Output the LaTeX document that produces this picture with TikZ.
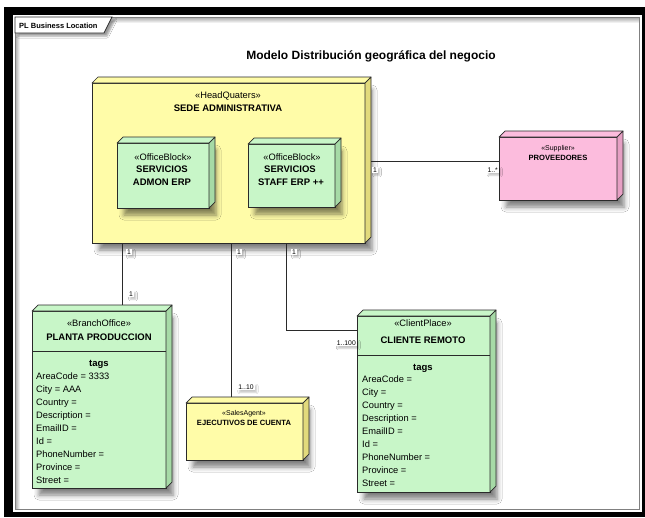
\documentclass[tikz,border=0pt]{standalone}
\usepackage{fontspec}
\setmainfont{Liberation Sans}
\usetikzlibrary{calc,shadows.blur}

\definecolor{hqYellow}{HTML}{FFFCA8}
\definecolor{hqYellowSide}{HTML}{E2DA7C}
\definecolor{obGreen}{HTML}{C8F6C8}
\definecolor{obGreenSide}{HTML}{A6DAA6}
\definecolor{supPink}{HTML}{FCBCDD}
\definecolor{supPinkSide}{HTML}{E6A0C4}
\definecolor{edge}{HTML}{2A2A2A}

\tikzset{
  box/.style={draw=edge, line width=0.7pt, inner sep=0pt, outer sep=0pt,
    blur shadow={shadow xshift=7pt, shadow yshift=-7pt, shadow blur radius=5pt, shadow opacity=50}},
  bigstereo/.style={font=\fontsize{9.3}{11}\selectfont, inner sep=0pt, anchor=base},
  bigname/.style={font=\fontsize{9.5}{11}\selectfont\bfseries, inner sep=0pt, anchor=base},
  smallstereo/.style={font=\fontsize{7}{8}\selectfont, inner sep=0pt, anchor=base},
  smallname/.style={font=\fontsize{7.6}{9}\selectfont\bfseries, inner sep=0pt, anchor=base},
  tagline/.style={font=\fontsize{9.3}{11}\selectfont, inner sep=0pt, anchor=base west},
  mult/.style={font=\fontsize{6.8}{8}\selectfont, fill=white, inner sep=1pt,
    blur shadow={shadow xshift=2pt, shadow yshift=-2pt, shadow blur radius=1.5pt, shadow opacity=22}},
  conn/.style={draw=edge, line width=0.8pt},
  titlefont/.style={font=\fontsize{12}{14}\selectfont\bfseries, inner sep=1pt},
}

% side and top faces of a 3D node box
\newcommand\boxdepth[3]{%
  \filldraw[draw=edge, line width=0.7pt, fill=#2, line join=round]
    (#1.north west) -- ++(6,-6) -- ($(#1.north east)+(6,-6)$) -- (#1.north east) -- cycle;
  \filldraw[draw=edge, line width=0.7pt, fill=#3, line join=round]
    (#1.north east) -- ++(6,-6) -- ($(#1.south east)+(6,-6)$) -- (#1.south east) -- cycle;
}

\begin{document}
\begin{tikzpicture}[x=1pt, y=-1pt]
\useasboundingbox (0,0) rectangle (645,517);

% outer frame
\fill[black] (4,7) rectangle (645,517);
\fill[white] (13,15) rectangle (642,512);
\shade[top color=gray!70, bottom color=white] (15,17) rectangle (639,23);
\shade[left color=gray!70, right color=white] (15,17) rectangle (20,509);
\draw[gray, line width=0.8pt] (15,17) rectangle (639,509);

% diagram tab
\filldraw[fill=white, draw=edge, line width=0.7pt,
  blur shadow={shadow xshift=3pt, shadow yshift=-3pt, shadow blur radius=2pt, shadow opacity=40}]
  (15,17) -- (112,17) -- (104,33) -- (15,33) -- cycle;
\node[font=\fontsize{7.5}{9}\selectfont\bfseries, inner sep=0pt, anchor=base west] (tabtxt) at (19,28) {PL Business Location};

% title
\node[titlefont] (title) at (371,56) {Modelo Distribución geográfica del negocio};

% headquarters
\node[box, fill=hqYellow, minimum width=273pt, minimum height=160pt] (hq) at (228.5,163) {};
\boxdepth{hq}{hqYellow}{hqYellowSide}
\coordinate (hqR) at ($(hq.east)+(6,0)$);
\node[bigstereo] (hqst) at (228,98.3) {«HeadQuaters»};
\node[bigname] (hqnm) at (228,111.3) {SEDE ADMINISTRATIVA};

% office blocks
\node[box, fill=obGreen, minimum width=92pt, minimum height=65pt] (ob1) at (163,175.5) {};
\boxdepth{ob1}{obGreen}{obGreenSide}
\node[bigstereo] (ob1st) at (163,160.3) {«OfficeBlock»};
\node[bigname] (ob1a) at (162,172.4) {SERVICIOS};
\node[bigname] (ob1b) at (162,185.4) {ADMON ERP};

\node[box, fill=obGreen, minimum width=87pt, minimum height=63pt] (ob2) at (291.5,175.5) {};
\boxdepth{ob2}{obGreen}{obGreenSide}
\node[bigstereo] (ob2st) at (292,160.3) {«OfficeBlock»};
\node[bigname] (ob2a) at (290,172.4) {SERVICIOS};
\node[bigname] (ob2b) at (291,185.4) {STAFF ERP ++};

% supplier
\node[box, fill=supPink, minimum width=118pt, minimum height=63pt] (prov) at (558,168.5) {};
\boxdepth{prov}{supPink}{supPinkSide}
\node[smallstereo] (provst) at (558,150.5) {«Supplier»};
\node[smallname] (provnm) at (558,160.8) {PROVEEDORES};

% branch office
\node[box, fill=obGreen, minimum width=134pt, minimum height=177pt] (branch) at (99,399.5) {};
\boxdepth{branch}{obGreen}{obGreenSide}
\draw[edge, line width=0.7pt] (branch.west |- 0,351) -- (branch.east |- 0,351);
\node[bigstereo] (brst) at (99,326.3) {«BranchOffice»};
\node[bigname] (brnm) at (99,340.4) {PLANTA PRODUCCION};
\node[bigname] (brtg) at (99,366.4) {tags};
\foreach [count=\i] \t in {AreaCode = 3333, City = AAA, Country =, Description =, EmailID =, Id =, PhoneNumber =, Province =, Street =}
  \node[tagline] (brt\i) at (36,379.3+13*\i-13) {\t};

% sales agent
\node[box, fill=hqYellow, minimum width=117pt, minimum height=57pt] (sales) at (244.5,431.5) {};
\boxdepth{sales}{hqYellow}{hqYellowSide}
\node[smallstereo] (salst) at (244,415.5) {«SalesAgent»};
\node[smallname] (salnm) at (244,425.8) {EJECUTIVOS DE CUENTA};

% client place
\node[box, fill=obGreen, minimum width=133pt, minimum height=176pt] (client) at (423.5,404) {};
\boxdepth{client}{obGreen}{obGreenSide}
\draw[edge, line width=0.7pt] (client.west |- 0,355) -- (client.east |- 0,355);
\node[bigstereo] (clst) at (423,326.3) {«ClientPlace»};
\node[bigname] (clnm) at (423,343.4) {CLIENTE REMOTO};
\node[bigname] (cltg) at (423,370.4) {tags};
\foreach [count=\i] \t in {AreaCode =, City =, Country =, Description =, EmailID =, Id =, PhoneNumber =, Province =, Street =}
  \node[tagline] (clt\i) at (362,382.3+13*\i-13) {\t};

% connectors
\coordinate (provIn) at ([yshift=7.5pt]prov.west);
\draw[conn] (provIn -| hqR) -- (provIn);

\coordinate (brTop) at ([xshift=23pt, yshift=6pt]branch.north);
\draw[conn] (hq.south -| brTop) -- (brTop);

\coordinate (salTop) at ([xshift=-13.5pt, yshift=6pt]sales.north);
\draw[conn] (hq.south -| salTop) -- (salTop);

\coordinate (clIn) at ([yshift=74pt]client.west);
\draw[conn] ([xshift=57.5pt]hq.south) |- (clIn);

% multiplicities
\node[mult] (m1) at (375,170) {1};
\node[mult, anchor=east] (m2) at (499,170) {1..*};
\node[mult] (m3) at (129,252) {1};
\node[mult] (m4) at (131,294) {1};
\node[mult] (m5) at (239,252) {1};
\node[mult] (m6) at (246,387) {1..10};
\node[mult] (m7) at (294,252) {1};
\node[mult, anchor=east] (m8) at (357,343) {1..100};

\end{tikzpicture}
\end{document}
